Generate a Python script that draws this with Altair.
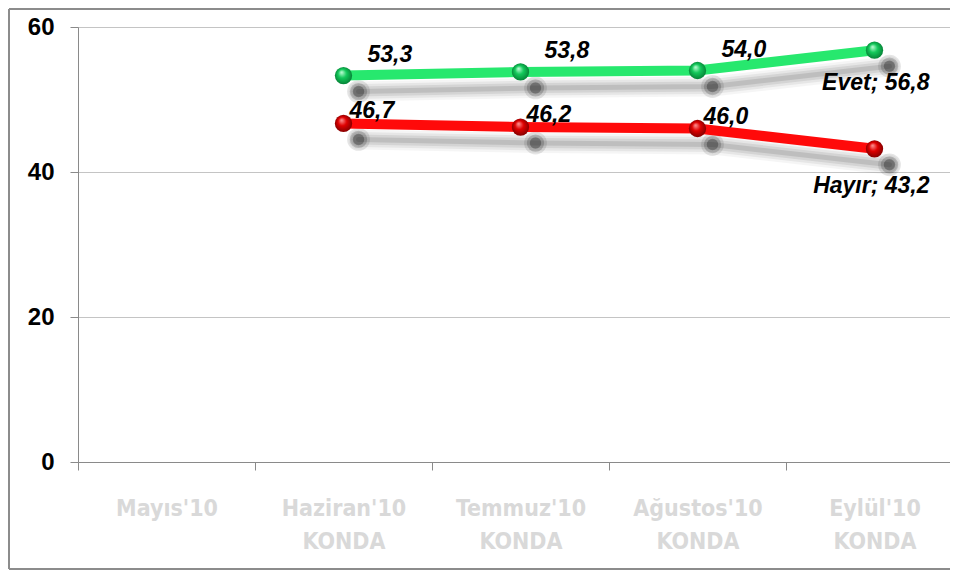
import altair as alt
import pandas as pd

categories = ["Mayıs'10", "Haziran'10 KONDA", "Temmuz'10 KONDA", "Ağustos'10 KONDA", "Eylül'10 KONDA"]
evet = [None, 53.3, 53.8, 54.0, 56.8]
hayir = [None, 46.7, 46.2, 46.0, 43.2]
series_names = ["Evet", "Hayır"]

rows = []
for name, vals in zip(series_names, [evet, hayir]):
    last = max(i for i, v in enumerate(vals) if v is not None)
    for i, (c, v) in enumerate(zip(categories, vals)):
        if v is None:
            continue
        txt = f"{v:.1f}".replace(".", ",")
        if i == last:
            txt = f"{name}; {txt}"
        rows.append({"category": c, "series": name, "value": v, "label": txt, "last": i == last})
df = pd.DataFrame(rows)

W, H = 872, 435
XR = 885
PADL, PADT, TOTAL_H = 70, 19, 562
HALF_BAND = XR / len(categories) / 2

xenc = alt.X("category:N", sort=categories, bandPosition=0.5,
             scale=alt.Scale(type="band", domain=categories, paddingInner=0, paddingOuter=0, range=[0, XR]),
             axis=alt.Axis(title=None, labelAngle=0, tickBand="extent", labelExpr="split(datum.label, ' ')",
                           labelColor="#d9d9d9", labelFont="DejaVu Sans Condensed", labelFontWeight="bold",
                           labelFontSize=23, labelLineHeight=33, labelPadding=27, tickSize=8,
                           domainColor="#8a8a8a", tickColor="#8a8a8a", grid=False, labelBaseline="top"))
yenc = alt.Y("value:Q", scale=alt.Scale(domain=[0, 60]),
             axis=alt.Axis(title=None, values=[0, 20, 40, 60], labelFont="Liberation Sans", labelFontWeight="bold",
                           labelFontSize=24, labelColor="#000000", labelPadding=16, tickSize=8,
                           domainColor="#8a8a8a", tickColor="#8a8a8a", gridColor="#c4c4c4"))

styles = {
    "Evet": dict(line="#27e86e", hi="#c8ffdc", mid="#12c95a", dark="#057a33",
                 dx=24, dy=-21, ldy=33),
    "Hayır": dict(line="#ff0a0a", hi="#ff9a9a", mid="#e00000", dark="#7a0000",
                  dx=6, dy=-12, ldy=37),
}

SH_X, SH_Y = 15, 16
base = alt.Chart(df)
shadow_layers, line_layers, point_layers, text_layers = [], [], [], []
for name in series_names:
    s = styles[name]
    d = base.transform_filter(alt.datum.series == name)
    for sw, op in [(20, 0.04), (15, 0.06), (10, 0.08), (5, 0.1)]:
        shadow_layers.append(d.mark_line(color="#000000", strokeWidth=sw, opacity=op, strokeCap="round").encode(
            x=xenc, y=yenc, xOffset=alt.value(HALF_BAND + SH_X), yOffset=alt.value(SH_Y)))
    for sz, op in [(520, 0.1), (300, 0.18), (130, 0.28)]:
        shadow_layers.append(d.mark_circle(color="#000000", size=sz, opacity=op).encode(
            x=xenc, y=yenc, xOffset=alt.value(HALF_BAND + SH_X), yOffset=alt.value(SH_Y)))
    line_layers.append(d.mark_line(color=s["line"], strokeWidth=10).encode(x=xenc, y=yenc))
    grad = alt.RadialGradient(gradient="radial",
                              stops=[alt.GradientStop(color=s["hi"], offset=0),
                                     alt.GradientStop(color=s["mid"], offset=0.45),
                                     alt.GradientStop(color=s["dark"], offset=1)],
                              x1=0.38, y1=0.3, r1=0, x2=0.5, y2=0.5, r2=0.55)
    point_layers.append(d.mark_circle(size=300, fill=grad, opacity=1, strokeWidth=0).encode(x=xenc, y=yenc))
    text_layers.append(d.transform_filter(alt.datum["last"] == False).mark_text(
        font="Liberation Sans", fontStyle="italic", fontWeight="bold", fontSize=23, color="#000000",
        align="left", baseline="middle", dx=s["dx"], dy=s["dy"]).encode(x=xenc, y=yenc, text="label:N"))
    text_layers.append(d.transform_filter(alt.datum["last"] == True).mark_text(
        font="Liberation Sans", fontStyle="italic", fontWeight="bold", fontSize=23, color="#000000",
        align="right", baseline="middle", dx=55, dy=s["ldy"]).encode(x=xenc, y=yenc, text="label:N"))

frame_df = pd.DataFrame({"k": [0]})
fb = alt.Chart(frame_df)
top_y = -PADT + 1
bot_y = TOTAL_H - PADT - 1
left_x = -PADL + 1
right_x = W + 10
frame = [
    fb.mark_rule(color="#8c8c8c", strokeWidth=2).encode(x=alt.value(left_x), y=alt.value(top_y), y2=alt.value(bot_y)),
    fb.mark_rule(color="#8c8c8c", strokeWidth=2).encode(x=alt.value(left_x), x2=alt.value(right_x), y=alt.value(top_y)),
    fb.mark_rule(color="#8c8c8c", strokeWidth=2).encode(x=alt.value(left_x), x2=alt.value(right_x), y=alt.value(bot_y)),
]

chart = alt.layer(*shadow_layers, *line_layers, *point_layers, *text_layers, *frame).properties(
    width=W, height=H,
    autosize=alt.AutoSizeParams(type="none"),
    padding={"left": PADL, "top": PADT, "right": 0, "bottom": TOTAL_H - PADT - H},
).configure_view(stroke=None).configure(background="#ffffff")

chart.save("out.html", embed_options={"renderer": "svg", "actions": False})
